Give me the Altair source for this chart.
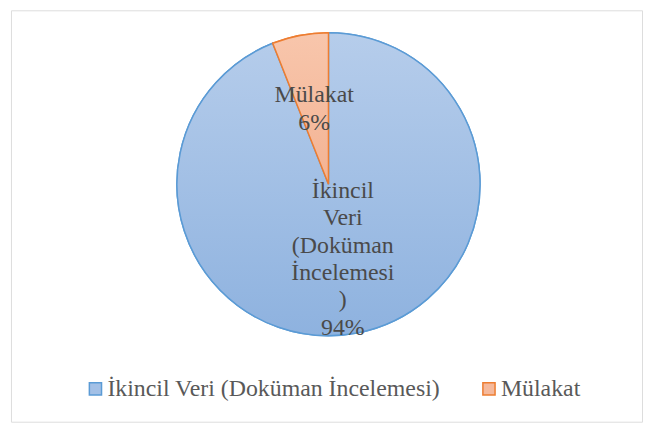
import altair as alt
import pandas as pd

categories = ["İkincil Veri (Doküman İncelemesi)", "Mülakat"]
shares = [94, 6]
wrapped_names = ["İkincil\nVeri\n(Doküman\nİncelemesi\n)", "Mülakat"]
fill_colors = ["#a3c0e6", "#f5b99c"]
stroke_colors = ["#5b9bd5", "#ed7d31"]

df = pd.DataFrame({
    "cat": categories,
    "share": shares,
    "ord": list(range(len(categories))),
    "label": [f"{n}\n{s}%" for n, s in zip(wrapped_names, shares)],
})

FONT = "Liberation Serif, Times New Roman, Tinos, DejaVu Serif, serif"
CX, CY, R = 319.5, 175, 152.5
LH = 27.5

grad_blue = {"gradient": "linear", "x1": 0, "y1": 0, "x2": 0, "y2": 1,
             "stops": [{"offset": 0, "color": "#b6cdeb"}, {"offset": 1, "color": "#8eb2df"}]}
grad_orange = {"gradient": "linear", "x1": 0, "y1": 0, "x2": 0, "y2": 1,
               "stops": [{"offset": 0, "color": "#f8c6ac"}, {"offset": 1, "color": "#f3b393"}]}

base = alt.Chart(df).encode(
    theta=alt.Theta("share:Q", stack=True),
    order=alt.Order("ord:Q"),
)

stroke_enc = alt.Stroke("cat:N", scale=alt.Scale(domain=categories, range=stroke_colors), title=None)

solid = base.mark_arc(outerRadius=R, strokeWidth=1.5).encode(
    x=alt.value(CX), y=alt.value(CY),
    fill=alt.Fill(
        "cat:N",
        scale=alt.Scale(domain=categories, range=fill_colors),
        title=None,
        legend=alt.Legend(
            orient="none", legendX=73, legendY=369, direction="horizontal",
            symbolType="square", symbolSize=150, symbolStrokeWidth=1.5,
            labelFont=FONT, labelFontSize=24, labelColor="#595959",
            labelLimit=500, labelOffset=0, columnPadding=36, padding=0,
        ),
    ),
    stroke=stroke_enc,
)

grad = base.mark_arc(outerRadius=R, strokeWidth=1.5).encode(
    x=alt.value(CX), y=alt.value(CY),
    fill=alt.condition("datum.cat == 'Mülakat'", alt.value(grad_orange), alt.value(grad_blue)),
    stroke=stroke_enc,
)

text = base.mark_text(
    radius=77, font=FONT, fontSize=24, color="#4a4a4a",
    lineBreak="\n", lineHeight=LH, align="center", baseline="middle",
    dy=alt.ExprRef(f"-(length(split(datum.label, '\\n')) - 1) * {LH} / 2"),
).encode(
    x=alt.value(CX), y=alt.value(CY),
    text="label:N",
)

chart = alt.layer(solid, grad, text).properties(
    width=635, height=414,
    padding={"left": 3, "top": 1, "right": 2, "bottom": 2},
    autosize=alt.AutoSizeParams(type="none"),
).configure_view(stroke="#d9d9d9", strokeWidth=1).configure(background="white")

chart.save("out.html", embed_options={"renderer": "svg", "actions": False})
